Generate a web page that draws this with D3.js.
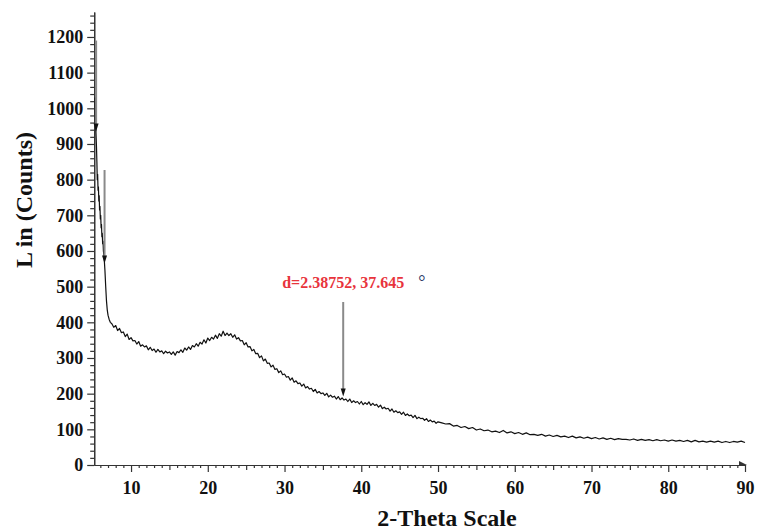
<!DOCTYPE html>
<html>
<head>
<meta charset="utf-8">
<script src="https://cdn.jsdelivr.net/npm/d3@7"></script>
<style>
  body { margin: 0; background: #fff; }
  svg { display: block; }
  .tick text { font-family: "Liberation Serif", serif; font-weight: bold; font-size: 18px; fill: #111; }
</style>
</head>
<body>
<div class="chart"></div>
<script>
// XRD scan, [2-theta, counts]
var scan = [
	[5.30,1030],[5.40,950],[5.50,890],[5.55,850],[5.60,800],[5.65,815],[5.70,770],[5.75,780],
	[5.80,740],[5.85,755],[5.90,715],[5.95,725],[6.00,690],[6.05,700],[6.10,665],[6.15,675],
	[6.20,640],[6.25,650],[6.30,620],[6.35,628],[6.40,600],[6.50,580],[6.60,545],[6.70,500],
	[6.80,460],[6.90,435],[7.00,420],[7.15,408],[7.30,400],
	[7.50,396],[7.75,386],[8.00,391],[8.25,377],[8.50,383],[8.75,371],[9.00,373],[9.25,360],
	[9.50,367],[9.75,352],[10.00,357],[10.25,348],[10.50,349],[10.75,339],[11.00,346],[11.25,333],
	[11.50,337],[11.75,331],[12.00,334],[12.25,323],[12.50,330],[12.75,321],[13.00,325],[13.25,316],
	[13.50,324],[13.75,317],[14.00,320],[14.25,312],[14.50,319],[14.75,314],[15.00,317],[15.25,310],
	[15.50,317],[15.75,308],[16.00,318],[16.25,315],[16.50,323],[16.75,316],[17.00,328],[17.25,322],
	[17.50,331],[17.75,324],[18.00,335],[18.25,331],[18.50,340],[18.75,333],[19.00,344],[19.25,339],
	[19.50,351],[19.75,342],[20.00,356],[20.25,349],[20.50,358],[20.75,353],[21.00,364],[21.25,355],
	[21.50,368],[21.75,361],[22.00,375],[22.25,363],[22.50,370],[22.75,363],[23.00,368],[23.25,358],
	[23.50,365],[23.75,353],[24.00,357],[24.25,348],[24.50,349],[24.75,337],[25.00,343],[25.25,331],
	[25.50,332],[25.75,320],[26.00,324],[26.25,312],[26.50,313],[26.75,301],[27.00,306],[27.25,292],
	[27.50,297],[27.75,285],[28.00,286],[28.25,275],[28.50,280],[28.75,268],[29.00,270],[29.25,259],
	[29.50,264],[29.75,253],[30.00,255],[30.25,246],[30.50,248],[30.75,238],[31.00,244],[31.25,232],
	[31.50,236],[31.75,228],[32.00,230],[32.25,221],[32.50,227],[32.75,216],[33.00,220],[33.25,213],
	[33.50,215],[33.75,206],[34.00,212],[34.25,202],[34.50,206],[34.75,200],[35.00,202],[35.25,195],
	[35.50,201],[35.75,191],[36.00,196],[36.25,190],[36.50,193],[36.75,185],[37.00,192],[37.25,183],
	[37.50,188],[37.75,182],[38.00,185],[38.25,178],[38.50,185],[38.75,175],[39.00,180],[39.25,175],
	[39.50,178],[39.75,171],[40.00,178],[40.25,169],[40.50,175],[40.75,170],[41.00,177],[41.25,167],
	[41.50,173],[41.75,167],[42.00,170],[42.25,162],[42.50,168],[42.75,158],[43.00,162],[43.25,157],
	[43.50,159],[43.75,151],[44.00,157],[44.25,148],[44.50,152],[44.75,147],[45.00,149],[45.25,142],
	[45.50,148],[45.75,139],[46.00,143],[46.25,138],[46.50,140],[46.75,133],[47.00,139],[47.25,130],
	[47.50,134],[47.75,130],[48.00,131],[48.25,125],[48.50,130],[48.75,122],[49.00,126],[49.25,121],
	[49.50,123],[49.75,117],[50.00,121],
	[50.5,118],[51.0,115],[51.5,116],[52.0,109],[52.5,111],[53.0,105],[53.5,108],[54.0,102],
	[54.5,105],[55.0,98],[55.5,101],[56.0,96],[56.5,98],[57.0,93],[57.5,95],[58.0,91],
	[58.5,97],[59.0,90],[59.5,93],[60.0,88],[60.5,91],[61.0,86],[61.5,90],[62.0,85],
	[62.5,86],[63.0,83],[63.5,86],[64.0,81],[64.5,84],[65.0,80],[65.5,83],[66.0,79],
	[66.5,81],[67.0,77],[67.5,81],[68.0,76],[68.5,79],[69.0,75],[69.5,78],[70.0,74],
	[70.5,77],[71.0,73],[71.5,76],[72.0,72],[72.5,75],[73.0,71],[73.5,74],[74.0,72],
	[74.5,72],[75.0,70],[75.5,73],[76.0,69],[76.5,72],[77.0,69],[77.5,71],[78.0,68],
	[78.5,71],[79.0,68],[79.5,70],[80.0,67],[80.5,70],[81.0,67],[81.5,69],[82.0,66],
	[82.5,69],[83.0,65],[83.5,69],[84.0,65],[84.5,67],[85.0,64],[85.5,67],[86.0,64],
	[86.5,67],[87.0,63],[87.5,66],[88.0,63],[88.5,66],[89.0,64],[89.5,67],[90.0,63]
];

// peak markers: position, top of the marker line, arrow tip (counts)
var peaks = [
	{theta: 5.45, top: 1190, tip: 935},
	{theta: 6.55, top: 827, tip: 565},
	{theta: 37.645, top: 457, tip: 192, label: 'd=2.38752, 37.645'}
];

var xTicks = [10, 20, 30, 40, 50, 60, 70, 80, 90];
var yTicks = [0, 100, 200, 300, 400, 500, 600, 700, 800, 900, 1000, 1100, 1200];
var xDomain = [5.2, 90];
var yDomain = [0, 1270];

var width = 757, height = 531;

var svg = d3.select('.chart').append('svg')
	.attr('width', width)
	.attr('height', height);

var x = d3.scaleLinear().domain(xDomain).range([94.2, 745]);
var y = d3.scaleLinear().domain(yDomain).range([465, 12]);

// minor ticks
var xMinor = d3.range(6, 91, 1).filter(function(d){ return d % 5 !== 0; });
var xMid = d3.range(15, 90, 10);
var yMinor = d3.range(20, 1270, 20).filter(function(d){ return d % 100 !== 0; });

var gx = svg.append('g').attr('transform', 'translate(0,' + y(0) + ')');
gx.append('g').call(d3.axisBottom(x).tickValues(xMinor).tickSize(3).tickSizeOuter(0).tickFormat(''));
gx.append('g').call(d3.axisBottom(x).tickValues(xMid).tickSize(5).tickSizeOuter(0).tickFormat(''));
gx.append('g').call(d3.axisBottom(x).tickValues(xTicks).tickSize(7).tickPadding(9).tickSizeOuter(0).tickFormat(d3.format('d')));

var gy = svg.append('g').attr('transform', 'translate(' + x(xDomain[0]) + ',0)');
gy.append('g').call(d3.axisLeft(y).tickValues(yMinor).tickSize(4).tickSizeOuter(0).tickFormat(''));
gy.append('g').call(d3.axisLeft(y).tickValues(yTicks).tickSize(7).tickPadding(4).tickSizeOuter(0).tickFormat(d3.format('d')));

svg.selectAll('.domain, .tick line').attr('stroke', '#333').attr('stroke-width', 1.2);

// little arrow at the end of the x axis
svg.append('path')
	.attr('d', 'M' + (x(90) - 6) + ',' + (y(0) - 4) + 'L' + (x(90) + 2) + ',' + y(0) + 'L' + (x(90) - 6) + ',' + (y(0) + 1) + 'Z')
	.attr('fill', '#333');

// scan line
var line = d3.line()
	.x(function(d){ return x(d[0]); })
	.y(function(d){ return y(d[1]); });

svg.append('path')
	.datum(scan)
	.attr('d', line)
	.attr('fill', 'none')
	.attr('stroke', '#111')
	.attr('stroke-width', 1.2)
	.attr('stroke-linejoin', 'round');

// peak markers
var marks = svg.selectAll('.peak').data(peaks).enter().append('g').attr('class', 'peak');

marks.append('line')
	.attr('x1', function(d){ return x(d.theta); })
	.attr('x2', function(d){ return x(d.theta); })
	.attr('y1', function(d){ return y(d.top); })
	.attr('y2', function(d){ return y(d.tip) - 6; })
	.attr('stroke', '#8a8a8a')
	.attr('stroke-width', 2);

marks.append('path')
	.attr('d', function(d){
		var px = x(d.theta), py = y(d.tip);
		return 'M' + (px - 2.5) + ',' + (py - 8) + 'L' + (px + 2.5) + ',' + (py - 8) + 'L' + px + ',' + py + 'Z';
	})
	.attr('fill', '#111');

var lab = marks.filter(function(d){ return d.label; });
lab.append('text')
	.attr('x', function(d){ return x(d.theta); })
	.attr('y', function(d){ return y(d.top) - 14; })
	.attr('text-anchor', 'middle')
	.style('font-family', '"Liberation Serif", serif')
	.style('font-weight', 'bold')
	.style('font-size', '16px')
	.style('fill', '#e8343c')
	.text(function(d){ return d.label; });
lab.append('text')
	.attr('x', function(d){ return x(d.theta) + 75; })
	.attr('y', function(d){ return y(d.top) - 14; })
	.style('font-family', '"Liberation Serif", serif')
	.style('font-size', '18px')
	.style('fill', '#22325e')
	.text('°');

// axis titles
svg.append('text')
	.attr('transform', 'translate(32,200) rotate(-90)')
	.attr('text-anchor', 'middle')
	.style('font-family', '"Liberation Serif", serif')
	.style('font-weight', 'bold')
	.style('font-size', '24px')
	.style('fill', '#111')
	.text('L in (Counts)');

svg.append('text')
	.attr('x', 447)
	.attr('y', 526)
	.attr('text-anchor', 'middle')
	.style('font-family', '"Liberation Serif", serif')
	.style('font-weight', 'bold')
	.style('font-size', '24px')
	.style('fill', '#111')
	.text('2-Theta Scale');
</script>
</body>
</html>
